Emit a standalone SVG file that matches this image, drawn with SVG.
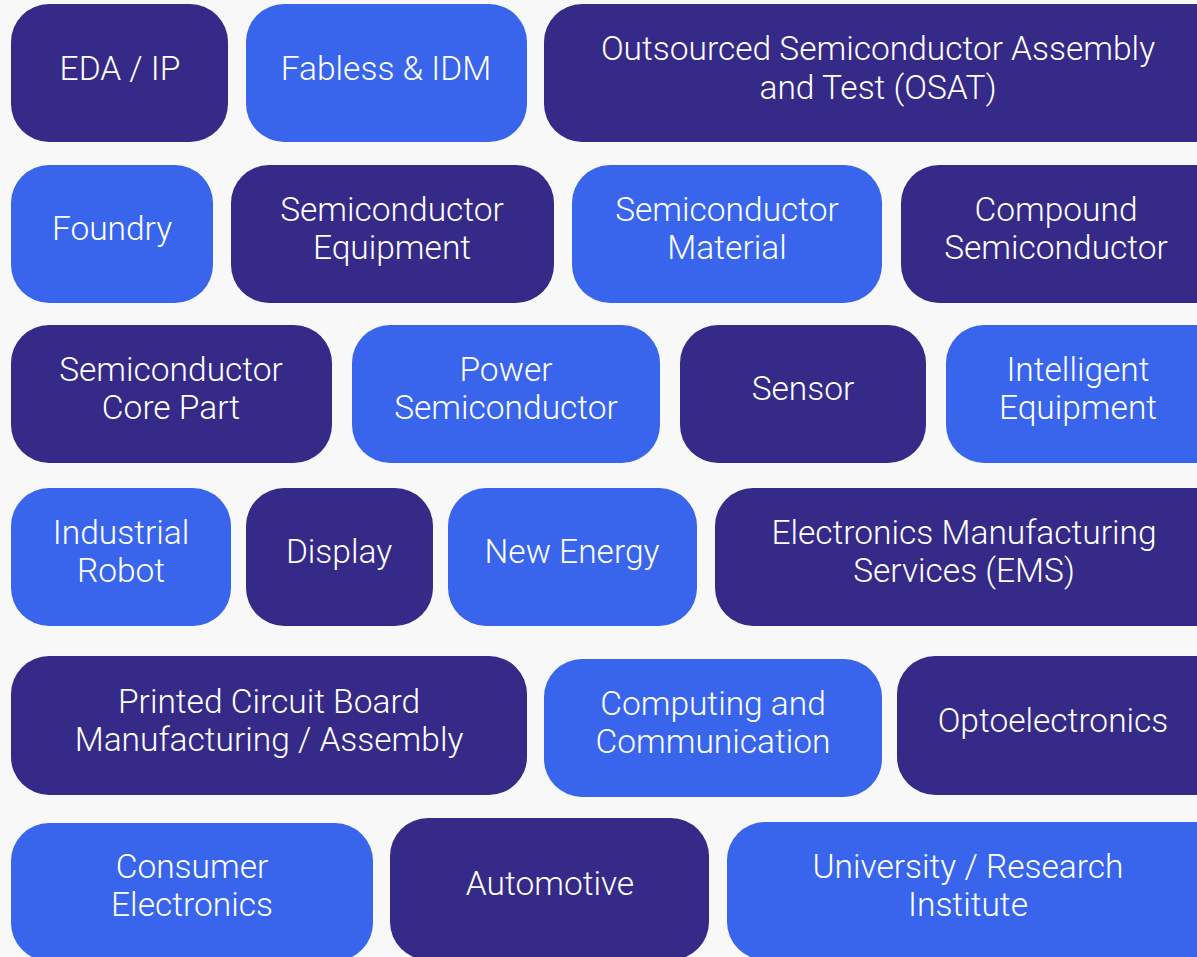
<svg xmlns="http://www.w3.org/2000/svg" width="1197" height="957" viewBox="0 0 1197 957">
<style>
.d{fill:#362a88}
.b{fill:#3865ec}
text{font-family:Roboto,"Liberation Sans",sans-serif;font-weight:300;font-size:33.5px;fill:#ffffff;text-anchor:middle}
</style>
<rect x="0" y="0" width="1197" height="957" fill="#f8f8f8"/>
<g id="connectors"/>
<g id="n-eda"><rect class="d" x="11" y="4" width="217" height="138" rx="38"/><text x="120" y="80">EDA / IP</text></g>
<g id="n-fabless"><rect class="b" x="246" y="4" width="281" height="138" rx="38"/><text x="386" y="80">Fabless &amp; IDM</text></g>
<g id="n-osat"><rect class="d" x="544" y="4" width="700" height="138" rx="38"/><text x="878" y="60">Outsourced Semiconductor Assembly</text><text x="878" y="99">and Test (OSAT)</text></g>

<g id="n-foundry"><rect class="b" x="11" y="165" width="202" height="138" rx="38"/><text x="112" y="240">Foundry</text></g>
<g id="n-equip"><rect class="d" x="231" y="165" width="323" height="138" rx="38"/><text x="392" y="221">Semiconductor</text><text x="392" y="259">Equipment</text></g>
<g id="n-material"><rect class="b" x="572" y="165" width="310" height="138" rx="38"/><text x="727" y="221">Semiconductor</text><text x="727" y="259">Material</text></g>
<g id="n-compound"><rect class="d" x="901" y="165" width="340" height="138" rx="38"/><text x="1056" y="221">Compound</text><text x="1056" y="259">Semiconductor</text></g>

<g id="n-core"><rect class="d" x="11" y="325" width="321" height="138" rx="38"/><text x="171" y="381">Semiconductor</text><text x="171" y="419">Core Part</text></g>
<g id="n-power"><rect class="b" x="352" y="325" width="308" height="138" rx="38"/><text x="506" y="381">Power</text><text x="506" y="419">Semiconductor</text></g>
<g id="n-sensor"><rect class="d" x="680" y="325" width="246" height="138" rx="38"/><text x="803" y="400">Sensor</text></g>
<g id="n-intelligent"><rect class="b" x="946" y="325" width="300" height="138" rx="38"/><text x="1078" y="381">Intelligent</text><text x="1078" y="419">Equipment</text></g>

<g id="n-robot"><rect class="b" x="11" y="488" width="220" height="138" rx="38"/><text x="121" y="544">Industrial</text><text x="121" y="582">Robot</text></g>
<g id="n-display"><rect class="d" x="246" y="488" width="187" height="138" rx="38"/><text x="339" y="563">Display</text></g>
<g id="n-energy"><rect class="b" x="448" y="488" width="249" height="138" rx="38"/><text x="572" y="563">New Energy</text></g>
<g id="n-ems"><rect class="d" x="715" y="488" width="530" height="138" rx="38"/><text x="964" y="544">Electronics Manufacturing</text><text x="964" y="582">Services (EMS)</text></g>

<g id="n-pcb"><rect class="d" x="11" y="656" width="516" height="139" rx="38"/><text x="269" y="713">Printed Circuit Board</text><text x="269" y="751">Manufacturing / Assembly</text></g>
<g id="n-computing"><rect class="b" x="544" y="659" width="338" height="138" rx="38"/><text x="713" y="715">Computing and</text><text x="713" y="753">Communication</text></g>
<g id="n-opto"><rect class="d" x="897" y="656" width="345" height="139" rx="38"/><text x="1053" y="732">Optoelectronics</text></g>

<g id="n-consumer"><rect class="b" x="11" y="823" width="362" height="138" rx="38"/><text x="192" y="878">Consumer</text><text x="192" y="916">Electronics</text></g>
<g id="n-auto"><rect class="d" x="390" y="818" width="319" height="142" rx="38"/><text x="550" y="895">Automotive</text></g>
<g id="n-univ"><rect class="b" x="727" y="822" width="520" height="138" rx="38"/><text x="968" y="878">University / Research</text><text x="968" y="916">Institute</text></g>
</svg>
